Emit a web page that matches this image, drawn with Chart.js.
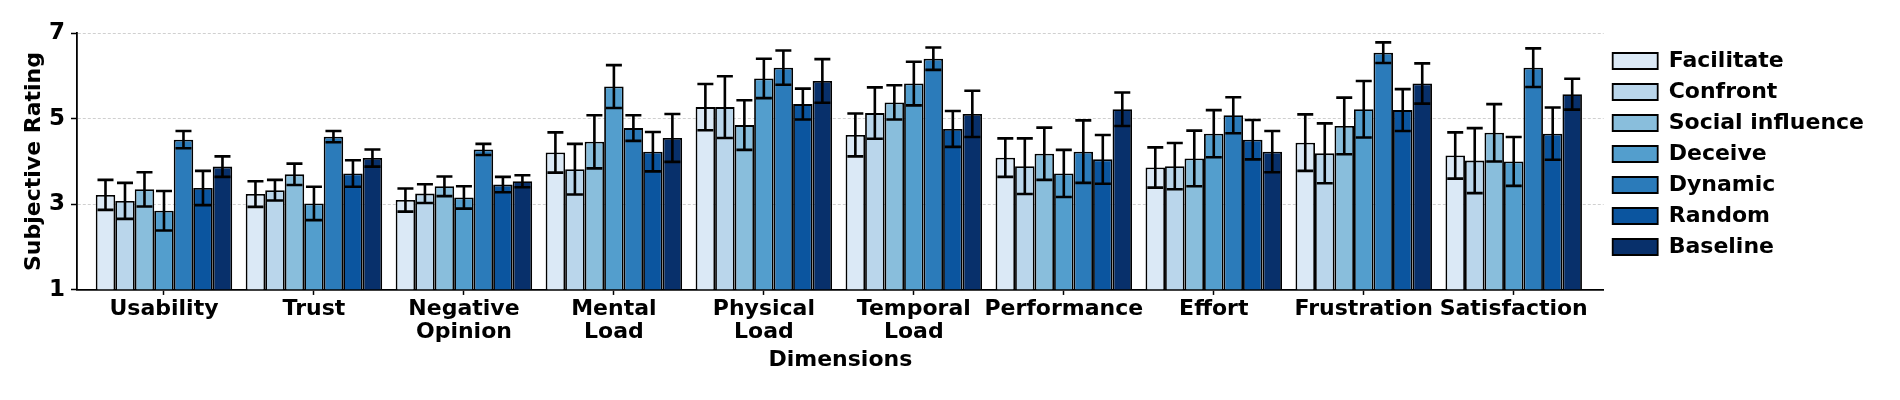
<!DOCTYPE html>
<html>
<head>
<meta charset="utf-8">
<script src="https://cdn.jsdelivr.net/npm/chart.js@4.4.1/dist/chart.umd.min.js"></script>
<style>
  html, body { margin: 0; padding: 0; background: #fff; }
</style>
</head>
<body>
<canvas id="chart" width="1900" height="400"></canvas>
<script>
var dimensions = ['Usability', 'Trust', 'Negative Opinion', 'Mental Load', 'Physical Load',
  'Temporal Load', 'Performance', 'Effort', 'Frustration', 'Satisfaction'];
var conditions = ['Facilitate', 'Confront', 'Social influence', 'Deceive', 'Dynamic', 'Random', 'Baseline'];
var yTicks = [1, 3, 5, 7];

// mean ratings per condition, one value per dimension
var facilitate = [3.22, 3.24, 3.10, 4.21, 5.27, 4.62, 4.09, 3.86, 4.44, 4.14];
var confront   = [3.08, 3.33, 3.25, 3.82, 5.27, 5.13, 3.89, 3.89, 4.19, 4.02];
var social     = [3.35, 3.70, 3.42, 4.46, 4.85, 5.38, 4.18, 4.07, 4.83, 4.67];
var deceive    = [2.85, 3.02, 3.16, 5.75, 5.94, 5.82, 3.72, 4.65, 5.22, 4.00];
var dynamic    = [4.51, 4.58, 4.28, 4.78, 6.19, 6.40, 4.23, 5.08, 6.54, 6.19];
var random     = [3.38, 3.72, 3.46, 4.23, 5.34, 4.76, 4.05, 4.51, 5.20, 4.65];
var baseline   = [3.88, 4.08, 3.54, 4.55, 5.88, 5.11, 5.22, 4.23, 5.82, 5.57];

// error bar half lengths
var facilitateErr = [0.35, 0.30, 0.27, 0.47, 0.54, 0.50, 0.45, 0.47, 0.66, 0.54];
var confrontErr   = [0.42, 0.24, 0.22, 0.59, 0.72, 0.60, 0.65, 0.54, 0.70, 0.76];
var socialErr     = [0.40, 0.25, 0.23, 0.62, 0.58, 0.40, 0.61, 0.65, 0.66, 0.67];
var deceiveErr    = [0.46, 0.39, 0.26, 0.50, 0.46, 0.51, 0.55, 0.55, 0.66, 0.57];
var dynamicErr    = [0.20, 0.13, 0.13, 0.30, 0.40, 0.26, 0.73, 0.42, 0.24, 0.45];
var randomErr     = [0.40, 0.31, 0.18, 0.46, 0.36, 0.42, 0.57, 0.46, 0.49, 0.61];
var baselineErr   = [0.24, 0.20, 0.14, 0.56, 0.51, 0.54, 0.39, 0.48, 0.47, 0.36];

var means = [facilitate, confront, social, deceive, dynamic, random, baseline];
var errs = [facilitateErr, confrontErr, socialErr, deceiveErr, dynamicErr, randomErr, baselineErr];
var blues = ['#dbe9f6', '#bad6eb', '#89bedc', '#539ecd', '#2b7bba', '#0b559f', '#08306b'];

Chart.defaults.font.family = 'DejaVu Sans';
Chart.defaults.font.weight = 'bold';
Chart.defaults.font.size = 22;
Chart.defaults.color = '#000';

var errorBars = {
  id: 'errorBars',
  afterDatasetsDraw: function(chart) {
    var ctx = chart.ctx, y = chart.scales.y;
    ctx.save();
    ctx.strokeStyle = '#000';
    ctx.lineWidth = 2.6;
    chart.data.datasets.forEach(function(ds, i) {
      chart.getDatasetMeta(i).data.forEach(function(bar, j) {
        var v = ds.data[j].y, e = ds.errors[j];
        var top = y.getPixelForValue(v + e), bot = y.getPixelForValue(v - e);
        ctx.beginPath();
        ctx.moveTo(bar.x, top); ctx.lineTo(bar.x, bot);
        ctx.moveTo(bar.x - 8, top); ctx.lineTo(bar.x + 8, top);
        ctx.moveTo(bar.x - 8, bot); ctx.lineTo(bar.x + 8, bot);
        ctx.stroke();
      });
    });
    ctx.restore();
  }
};

var datasets = conditions.map(function(name, k) {
  return {
    label: name,
    data: means[k].map(function(v, i) { return {x: i, y: v}; }),
    errors: errs[k],
    backgroundColor: blues[k],
    borderColor: '#000',
    borderWidth: 1.8,
    base: 1,
    categoryPercentage: 0.91,
    barPercentage: 1.0
  };
});

new Chart(document.getElementById('chart'), {
  type: 'bar',
  data: { datasets: datasets },
  plugins: [errorBars],
  options: {
    responsive: false,
    animation: false,
    devicePixelRatio: 1,
    layout: { padding: { left: 18, top: 33, right: 26, bottom: 27 } },
    plugins: {
      tooltip: { enabled: false },
      legend: {
        position: 'right',
        align: 'start',
        title: { display: true, text: '', font: { size: 5, lineHeight: 1 }, padding: { top: 3, bottom: 0 } },
        labels: { boxWidth: 45, boxHeight: 16, padding: 9, font: { size: 22, weight: 'bold' } }
      }
    },
    scales: {
      x: {
        type: 'linear',
        min: -0.58,
        max: 9.6,
        offset: false,
        afterBuildTicks: function(scale) {
          scale.ticks = dimensions.map(function(d, i) { return {value: i}; });
        },
        ticks: {
          autoSkip: false,
          maxRotation: 0,
          padding: 2.5,
          font: { size: 22, weight: 'bold', lineHeight: 1.06 },
          callback: function(value) { return dimensions[value].split(' '); }
        },
        grid: { drawOnChartArea: false, drawTicks: true, tickLength: 5, tickColor: '#000', tickWidth: 1.5, offset: false },
        border: { display: true, color: '#000', width: 1.8 },
        title: { display: true, text: 'Dimensions', font: { size: 22, weight: 'bold' }, padding: { top: 0, bottom: 0 } }
      },
      y: {
        min: 1,
        max: 7,
        afterFit: function(scale) { scale.width = 59; },
        afterBuildTicks: function(scale) {
          scale.ticks = yTicks.map(function(v) { return {value: v}; });
        },
        ticks: { padding: 6, font: { size: 23, weight: 'bold' } },
        grid: {
          color: function(c) { return c.tick && c.tick.value === 1 ? 'rgba(0,0,0,0)' : '#c4c4c4'; },
          lineWidth: 0.8,
          tickLength: 6,
          tickColor: '#000',
          tickWidth: 1.5
        },
        border: { display: true, color: '#000', width: 1.8, dash: [3, 2] },
        title: { display: true, text: 'Subjective Rating', font: { size: 22, weight: 'bold' }, padding: 3 }
      }
    }
  }
});
</script>
</body>
</html>
